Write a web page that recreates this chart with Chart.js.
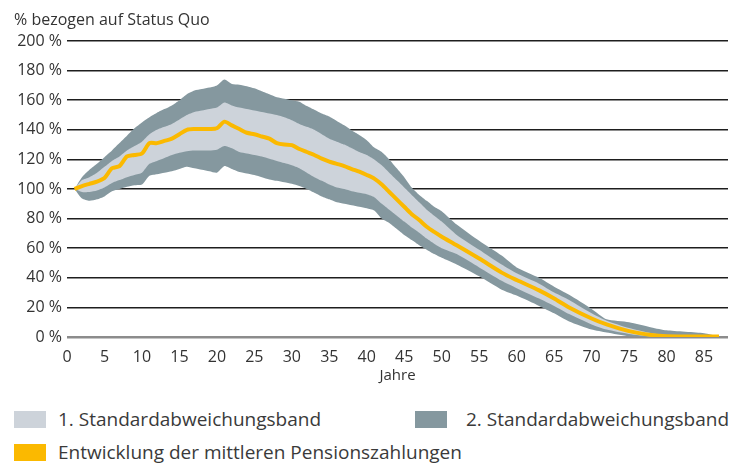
<!DOCTYPE html>
<html>
<head>
<meta charset="utf-8">
<script src="https://cdn.jsdelivr.net/npm/chart.js@4.4.0/dist/chart.umd.min.js"></script>
<style>
  body { margin: 0; background: #fff; font-family: "Open Sans", sans-serif; color: #333; }
  #wrap { position: relative; width: 745px; height: 463px; }
  #chartCanvas { position: absolute; left: 0; top: 0; }
  #yTitle { position: absolute; left: 14px; top: 8px; font-size: 16px; color: #333; }
  .sw { position: absolute; width: 32px; height: 17px; }
  .lt { position: absolute; font-size: 19px; color: #3a3a3a; line-height: 24px; }
</style>
</head>
<body>
<div id="wrap">
  <canvas id="chartCanvas" width="745" height="392"></canvas>
  <div id="yTitle">% bezogen auf Status Quo</div>

  <div class="sw" style="left:14px; top:411px; background:#cdd3da;"></div>
  <div class="lt" style="left:58px; top:407px;">1. Standardabweichungsband</div>
  <div class="sw" style="left:415px; top:411px; background:#85989f;"></div>
  <div class="lt" style="left:466px; top:407px;">2. Standardabweichungsband</div>
  <div class="sw" style="left:14px; top:444px; background:#fbb900;"></div>
  <div class="lt" style="left:58px; top:440px;">Entwicklung der mittleren Pensionszahlungen</div>
</div>

<script>
// Jahre (x-Werte)
const years = [
  1, 2, 3, 4, 5, 6, 7, 8, 9, 10,
  11, 12, 13, 14, 15, 16, 17, 18, 19, 20,
  21, 22, 23, 24, 25, 26, 27, 28, 29, 30,
  31, 32, 33, 34, 35, 36, 37, 38, 39, 40,
  41, 42, 43, 44, 45, 46, 47, 48, 49, 50,
  52, 55, 58, 60, 63, 65, 67, 70, 72, 75,
  78, 80, 85, 87,
];

// Entwicklung der mittleren Pensionszahlungen
const meanValues = [
  100, 102, 103.5, 105, 107.5, 114, 115.5, 122, 123, 124,
  131, 131, 132.5, 134, 137, 140, 140.5, 140.5, 140.5, 141,
  145.5, 143, 140.5, 138, 137, 135.5, 134, 131, 130, 129.7,
  127, 125, 123, 120.5, 118.5, 117, 115.5, 113.5, 111.7, 109.5,
  107, 103, 98, 93, 88, 83, 79, 74.5, 71, 67.8,
  62, 53, 43.5, 38.5, 31.5, 26, 20, 12.5, 8.5, 4,
  1.3, 0.5, 0.3, 0.3,
];

// 1. Standardabweichungsband
const band1Upper = [
  100, 106, 108, 111, 115, 119, 122, 126, 129, 132,
  137, 140, 142, 144, 147, 150, 152, 153, 154, 155,
  158.5, 156.5, 155, 154, 153, 152, 151, 150, 148.5, 146.5,
  144, 142, 140, 137, 134, 132, 130, 127.5, 125, 123,
  120, 116, 111, 106, 101, 96, 91, 86, 82, 78,
  69, 59, 49, 43, 36, 30, 25, 16, 11, 6,
  2.5, 1.2, 0.5, 0.3,
];
const band1Lower = [
  100, 98, 98, 99, 101, 104, 106, 108, 109.5, 111,
  117, 119, 121, 123, 124.5, 125.5, 126, 126, 126, 126.5,
  129, 127.5, 125, 124, 123, 122, 120.5, 119, 117.5, 116,
  114, 111, 108, 105.5, 103, 101, 100, 98.5, 97.5, 96.5,
  94.5, 90, 86, 82, 78, 74, 70.5, 66.5, 63, 60,
  56, 47, 38, 33, 26, 21, 15.5, 8.5, 5, 2,
  0.3, 0, 0, 0,
];

// 2. Standardabweichungsband
const band2Upper = [
  100, 108, 113, 117, 121.5, 126, 131, 136, 141, 145,
  148.5, 151.5, 154, 156.5, 160, 164, 166.5, 167.5, 168.5, 170,
  174, 171, 170.5, 169.5, 168, 166, 164, 162, 161, 160,
  159, 156, 153.5, 151, 149, 146, 143, 139.5, 136.5, 133,
  128, 125, 120, 114, 108, 101, 96, 92, 88, 85,
  76, 65, 55, 47, 40, 34, 28.5, 19, 12, 10,
  6.5, 4.5, 2.5, 0.3,
];
const band2Lower = [
  100, 93.5, 92, 93, 95, 98.5, 100, 101.5, 102.5, 103,
  109, 110, 111, 112, 113.5, 115, 114, 113, 112, 111,
  115.5, 113.5, 111.5, 110.5, 109.5, 108, 106.5, 105.5, 104.5, 103.5,
  102, 100, 97.5, 95, 93, 91, 90, 89, 88, 87,
  85.5, 80, 77, 73, 69, 65.5, 62, 59, 56, 53.5,
  49, 41, 32, 28, 21, 16, 10.5, 5, 3, 0.5,
  0, 0, 0, 0,
];

const yTicks = [0, 20, 40, 60, 80, 100, 120, 140, 160, 180, 200];

const colorMean = "#fbb900";
const colorBand1 = "#cdd3da";
const colorBand2 = "#85989f";

function toPoints(values) {
  return years.map((x, i) => ({ x: x, y: values[i] }));
}

const bandStyle = {
  borderWidth: 0,
  pointRadius: 0,
  tension: 0.2,
};

new Chart(document.getElementById("chartCanvas"), {
  type: "line",
  data: {
    datasets: [
      {
        label: "Entwicklung der mittleren Pensionszahlungen",
        data: toPoints(meanValues),
        borderColor: colorMean,
        borderWidth: 4,
        pointRadius: 0,
        tension: 0.25,
        fill: false,
        order: 0,
      },
      {
        ...bandStyle,
        label: "1. Standardabweichungsband",
        data: toPoints(band1Upper),
        backgroundColor: colorBand1,
        fill: "+1",
        order: 1,
      },
      {
        ...bandStyle,
        label: "1. Band unten",
        data: toPoints(band1Lower),
        fill: false,
        order: 1,
      },
      {
        ...bandStyle,
        label: "2. Standardabweichungsband",
        data: toPoints(band2Upper),
        backgroundColor: colorBand2,
        fill: "+1",
        order: 2,
      },
      {
        ...bandStyle,
        label: "2. Band unten",
        data: toPoints(band2Lower),
        fill: false,
        order: 2,
      },
    ],
  },
  options: {
    responsive: false,
    animation: false,
    layout: { padding: { top: 41, right: 17, bottom: 2, left: 0 } },
    plugins: {
      legend: { display: false },
      tooltip: { enabled: false },
    },
    scales: {
      x: {
        type: "linear",
        min: 0,
        max: 88.2,
        grid: { display: false },
        border: { display: false },
        ticks: {
          stepSize: 5,
          includeBounds: false,
          padding: 3,
          maxRotation: 0,
          color: "#333",
          font: { family: "Open Sans", size: 16 },
        },
        title: {
          display: true,
          text: "Jahre",
          color: "#333",
          font: { family: "Open Sans", size: 15 },
          padding: { top: 0, bottom: 5 },
        },
        afterFit: (scale) => {
          scale.height = 53;
        },
      },
      y: {
        min: 0,
        max: 200,
        afterBuildTicks: (scale) => {
          scale.ticks = yTicks.map((v) => ({ value: v }));
        },
        grid: {
          drawTicks: false,
          color: (ctx) => (ctx.tick && ctx.tick.value === 0 ? "#8c8c8c" : "#1e1e1e"),
          lineWidth: (ctx) => (ctx.tick && ctx.tick.value === 0 ? 2.5 : 1.6),
        },
        border: { display: false },
        ticks: {
          padding: 5,
          color: "#333",
          font: { family: "Open Sans", size: 16 },
          callback: (v) => v + " %",
        },
        afterFit: (scale) => {
          scale.width = 67;
        },
      },
    },
  },
});
</script>
</body>
</html>
